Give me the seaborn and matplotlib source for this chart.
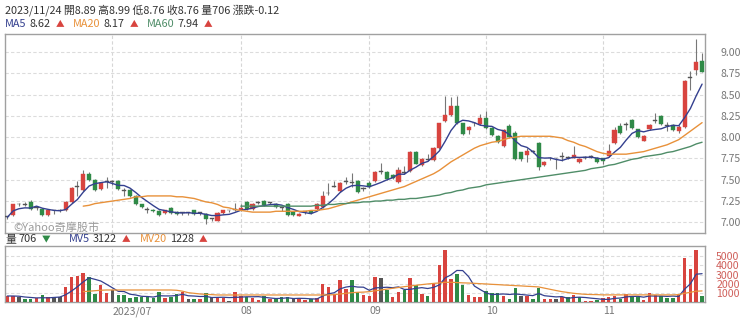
import matplotlib
matplotlib.use("Agg")
import matplotlib.pyplot as plt
import numpy as np
import pandas as pd
import seaborn as sns

# daily candles, 2023/06 - 2023/11/24 (index = trading day)
OPEN = [7.06, 7.09, 7.21, 7.20, 7.24, 7.17, 7.16, 7.09, 7.14, 7.14,
        7.14, 7.24, 7.42, 7.38, 7.57, 7.50, 7.39, 7.47, 7.47, 7.48,
        7.37, 7.38, 7.31, 7.21, 7.15, 7.15, 7.13, 7.11, 7.17, 7.12,
        7.11, 7.11, 7.14, 7.11, 7.10, 7.04, 7.02, 7.11, 7.14, 7.15,
        7.14, 7.24, 7.16, 7.23, 7.25, 7.23, 7.22, 7.17, 7.22, 7.12,
        7.08, 7.12, 7.13, 7.16, 7.18, 7.34, 7.42, 7.37, 7.47, 7.46,
        7.49, 7.39, 7.46, 7.48, 7.59, 7.59, 7.56, 7.47, 7.58, 7.60,
        7.83, 7.67, 7.73, 7.73, 7.87, 8.19, 8.26, 8.36, 8.16, 8.08,
        8.16, 8.15, 8.22, 8.11, 8.01, 7.89, 8.13, 8.05, 7.82, 7.79,
        7.83, 7.93, 7.67, 7.75, 7.75, 7.77, 7.76, 7.76, 7.71, 7.76,
        7.77, 7.76, 7.75, 7.78, 7.93, 8.13, 8.14, 8.20, 8.09, 7.96,
        8.09, 8.19, 8.25, 8.13, 8.14, 8.07, 8.12, 8.69, 8.79, 8.89]
HIGH = [7.08, 7.22, 7.23, 7.24, 7.26, 7.19, 7.17, 7.15, 7.15, 7.16,
        7.25, 7.41, 7.48, 7.62, 7.59, 7.51, 7.47, 7.53, 7.50, 7.50,
        7.40, 7.39, 7.32, 7.22, 7.18, 7.16, 7.14, 7.15, 7.18, 7.13,
        7.12, 7.12, 7.15, 7.12, 7.11, 7.05, 7.12, 7.15, 7.15, 7.23,
        7.22, 7.25, 7.23, 7.25, 7.26, 7.24, 7.23, 7.18, 7.23, 7.13,
        7.11, 7.13, 7.14, 7.23, 7.37, 7.46, 7.49, 7.47, 7.53, 7.58,
        7.50, 7.41, 7.48, 7.60, 7.70, 7.60, 7.57, 7.65, 7.66, 7.84,
        7.84, 7.75, 7.80, 7.88, 8.17, 8.48, 8.47, 8.48, 8.17, 8.13,
        8.18, 8.27, 8.31, 8.12, 8.02, 8.10, 8.15, 8.07, 7.83, 7.87,
        7.85, 7.94, 7.72, 7.77, 7.76, 7.82, 7.78, 7.90, 7.75, 7.78,
        7.79, 7.77, 7.76, 7.92, 8.12, 8.16, 8.18, 8.21, 8.10, 8.02,
        8.15, 8.28, 8.26, 8.18, 8.15, 8.14, 8.67, 8.77, 9.15, 8.99]
LOW = [7.04, 7.08, 7.19, 7.19, 7.15, 7.15, 7.08, 7.08, 7.10, 7.12,
       7.13, 7.23, 7.31, 7.37, 7.49, 7.37, 7.38, 7.40, 7.44, 7.38,
       7.31, 7.30, 7.20, 7.17, 7.11, 7.12, 7.08, 7.10, 7.10, 7.09,
       7.09, 7.09, 7.09, 7.09, 6.98, 7.01, 7.01, 7.10, 7.12, 7.13,
       7.13, 7.15, 7.15, 7.21, 7.19, 7.21, 7.17, 7.13, 7.08, 7.08,
       7.07, 7.10, 7.10, 7.15, 7.17, 7.32, 7.41, 7.36, 7.45, 7.42,
       7.35, 7.37, 7.40, 7.47, 7.57, 7.50, 7.51, 7.46, 7.57, 7.59,
       7.68, 7.66, 7.72, 7.72, 7.86, 8.18, 8.25, 8.15, 8.03, 8.04,
       8.13, 8.14, 8.10, 8.01, 7.93, 7.88, 7.99, 7.73, 7.72, 7.71,
       7.81, 7.62, 7.66, 7.73, 7.63, 7.72, 7.74, 7.75, 7.70, 7.74,
       7.75, 7.70, 7.69, 7.77, 7.92, 8.04, 8.08, 8.10, 7.99, 7.95,
       8.08, 8.16, 8.14, 8.07, 8.07, 8.05, 8.11, 8.55, 8.73, 8.76]
CLOSE = [7.06, 7.21, 7.21, 7.20, 7.16, 7.17, 7.09, 7.14, 7.14, 7.14,
         7.24, 7.40, 7.42, 7.57, 7.50, 7.38, 7.46, 7.47, 7.47, 7.39,
         7.37, 7.31, 7.21, 7.18, 7.15, 7.13, 7.09, 7.14, 7.11, 7.10,
         7.11, 7.11, 7.10, 7.11, 7.04, 7.04, 7.11, 7.14, 7.14, 7.15,
         7.17, 7.16, 7.22, 7.23, 7.20, 7.23, 7.18, 7.17, 7.09, 7.09,
         7.10, 7.12, 7.11, 7.22, 7.31, 7.34, 7.42, 7.46, 7.47, 7.46,
         7.36, 7.39, 7.41, 7.59, 7.59, 7.51, 7.52, 7.62, 7.58, 7.83,
         7.69, 7.74, 7.73, 7.87, 8.16, 8.26, 8.37, 8.16, 8.04, 8.12,
         8.16, 8.22, 8.11, 8.02, 7.94, 8.08, 8.00, 7.74, 7.74, 7.84,
         7.83, 7.65, 7.71, 7.75, 7.75, 7.77, 7.76, 7.79, 7.74, 7.76,
         7.77, 7.71, 7.72, 7.84, 8.08, 8.05, 8.14, 8.11, 8.00, 8.01,
         8.14, 8.19, 8.15, 8.13, 8.08, 8.12, 8.66, 8.69, 8.88, 8.76]
VOLUME = [680, 680, 610, 320, 320, 430, 790, 540, 540, 540,
          1690, 2770, 2840, 3200, 2700, 900, 1870, 1040, 1330, 790,
          790, 430, 610, 610, 680, 500, 1150, 500, 610, 900,
          1150, 360, 360, 360, 970, 540, 430, 430, 180, 1080,
          680, 610, 430, 250, 720, 320, 320, 540, 540, 320,
          430, 250, 320, 430, 1940, 1620, 860, 2410, 1400, 2410,
          1150, 790, 720, 2700, 2590, 1330, 540, 1150, 1330, 2660,
          1870, 900, 680, 1940, 4030, 5650, 2520, 3060, 1870, 790,
          540, 610, 1260, 970, 970, 680, 360, 1510, 680, 680,
          360, 1510, 320, 360, 360, 540, 540, 790, 540, 180,
          180, 250, 430, 540, 720, 360, 860, 680, 610, 250,
          1040, 790, 680, 430, 430, 800, 4750, 3600, 5600, 706]

# longer averages as drawn on the chart (first drawn day given by *_START)
MA20_START = 13
MA20 = [7.19, 7.20, 7.22, 7.23, 7.24, 7.25, 7.26, 7.27, 7.28, 7.30,
        7.30, 7.31, 7.31, 7.31, 7.31, 7.31, 7.30, 7.30, 7.29, 7.28,
        7.26, 7.24, 7.23, 7.21, 7.18, 7.17, 7.15, 7.14, 7.13, 7.12,
        7.12, 7.12, 7.12, 7.13, 7.13, 7.13, 7.13, 7.13, 7.13, 7.14,
        7.14, 7.15, 7.16, 7.18, 7.20, 7.22, 7.24, 7.26, 7.28, 7.30,
        7.32, 7.34, 7.36, 7.38, 7.40, 7.42, 7.45, 7.48, 7.51, 7.54,
        7.57, 7.61, 7.66, 7.71, 7.75, 7.79, 7.83, 7.87, 7.90, 7.92,
        7.94, 7.95, 7.97, 7.99, 8.00, 8.01, 8.01, 8.01, 8.01, 8.01,
        8.01, 8.00, 7.99, 7.96, 7.94, 7.91, 7.89, 7.86, 7.83, 7.81,
        7.80, 7.80, 7.80, 7.80, 7.81, 7.82, 7.83, 7.85, 7.87, 7.89,
        7.91, 7.94, 7.97, 8.02, 8.07, 8.12, 8.17]
MA60_START = 40
MA60 = [7.19, 7.19, 7.19, 7.19, 7.19, 7.19, 7.19, 7.19, 7.19, 7.19,
        7.19, 7.19, 7.19, 7.20, 7.20, 7.21, 7.21, 7.22, 7.22, 7.23,
        7.23, 7.24, 7.24, 7.25, 7.25, 7.26, 7.26, 7.27, 7.27, 7.28,
        7.28, 7.29, 7.30, 7.31, 7.32, 7.34, 7.35, 7.37, 7.38, 7.40,
        7.41, 7.42, 7.44, 7.45, 7.46, 7.47, 7.48, 7.49, 7.50, 7.51,
        7.52, 7.53, 7.54, 7.55, 7.56, 7.57, 7.58, 7.59, 7.60, 7.61,
        7.63, 7.64, 7.65, 7.67, 7.68, 7.70, 7.72, 7.74, 7.75, 7.77,
        7.78, 7.79, 7.80, 7.82, 7.83, 7.85, 7.87, 7.89, 7.92, 7.94]
MV20_START = 13
MV20 = [1150, 1200, 1250, 1300, 1330, 1330, 1330, 1330, 1330, 1330,
        1330, 1330, 1330, 1330, 1330, 1330, 1300, 1200, 1040, 970,
        900, 860, 830, 790, 790, 790, 790, 790, 790, 790,
        790, 790, 790, 790, 790, 790, 790, 790, 790, 790,
        790, 790, 790, 830, 900, 970, 1040, 1080, 1100, 1150,
        1240, 1330, 1420, 1510, 1600, 1690, 1760, 1840, 1910, 1980,
        2040, 2090, 2160, 2160, 2130, 2100, 2080, 2050, 2010, 1980,
        1940, 1910, 1870, 1840, 1800, 1770, 1730, 1700, 1660, 1530,
        1400, 1270, 1150, 1060, 970, 910, 860, 840, 830, 800,
        800, 800, 800, 800, 800, 800, 800, 800, 800, 800,
        800, 800, 830, 970, 1080, 1200, 1228]

MONTH_POS = [18, 40, 62, 82, 102]
MONTH_LABELS = ["2023/07", "08", "09", "10", "11"]
PRICE_TICKS = [7.00, 7.25, 7.50, 7.75, 8.00, 8.25, 8.50, 8.75, 9.00]
VOL_TICKS = [1000, 2000, 3000, 4000, 5000]

RED = "#d8443f"
GREEN = "#2f8a47"
GRAY = "#555555"
C_MA5 = "#34408f"
C_MA20 = "#e8913a"
C_MA60 = "#4f8d68"
TXT = "#333333"

W, H = 740, 322

sns.set_theme(style="white")
plt.rcParams["font.family"] = ["Noto Sans CJK TC", "DejaVu Sans"]

df = pd.DataFrame({"open": OPEN, "high": HIGH, "low": LOW, "close": CLOSE, "volume": VOLUME})
df["x"] = np.arange(len(df))
df["ma5"] = df["close"].rolling(5, min_periods=1).mean()
df["mv5"] = df["volume"].rolling(5, min_periods=1).mean()
prev = df["close"].shift(1)

fig = plt.figure(figsize=(W / 100, H / 100), dpi=100)
fig.patch.set_facecolor("white")
ax = fig.add_axes([5 / W, 1 - 233 / H, 700 / W, 199 / H])
axv = fig.add_axes([5 / W, 1 - 302.3 / H, 700 / W, 56.3 / H])

# candles
up = df["close"] > df["open"]
dn = df["close"] < df["open"]
ccol = np.where(up, RED, np.where(dn, GREEN, GRAY))
ax.vlines(df["x"], df["low"], df["high"], colors="#777777", lw=0.8, zorder=2)
body = np.maximum((df["close"] - df["open"]).abs(), 0.01)
ax.bar(df["x"], body, bottom=np.minimum(df["open"], df["close"]), width=0.7,
       color=ccol, edgecolor=ccol, lw=0.3, zorder=3)

sns.lineplot(x=df["x"], y=df["ma5"], ax=ax, color=C_MA5, lw=1.0, zorder=4)
sns.lineplot(x=np.arange(MA20_START, MA20_START + len(MA20)), y=MA20, ax=ax, color=C_MA20, lw=1.0, zorder=4)
sns.lineplot(x=np.arange(MA60_START, MA60_START + len(MA60)), y=MA60, ax=ax, color=C_MA60, lw=1.0, zorder=4)

# volume
vcol = np.where(df["close"] > prev, RED, np.where(df["close"] < prev, GREEN, GRAY))
vcol[0] = RED
axv.bar(df["x"], df["volume"], width=0.6, color=vcol, lw=0, zorder=3)
sns.lineplot(x=df["x"], y=df["mv5"], ax=axv, color=C_MA5, lw=0.9, zorder=4)
sns.lineplot(x=np.arange(MV20_START, MV20_START + len(MV20)), y=MV20, ax=axv, color=C_MA20, lw=0.9, zorder=4)

for a in (ax, axv):
    a.set_xlim(-0.4, 119.5)
    a.set_xlabel("")
    a.set_ylabel("")
    a.yaxis.tick_right()
    a.tick_params(axis="both", length=0, labelsize=7.6, colors="#777777")
    for s in a.spines.values():
        s.set_color("#a0a0a0")
        s.set_linewidth(1.0)
    a.set_axisbelow(True)
    for m in MONTH_POS:
        a.axvline(m, color="#d6d6d6", lw=0.8, ls=(0, (3, 2)), zorder=1)

ax.set_ylim(6.875, 9.21)
ax.set_yticks(PRICE_TICKS)
ax.set_yticklabels([f"{v:.2f}" for v in PRICE_TICKS])
ax.tick_params(axis="y", pad=11)
ax.set_xticks([])
for v in PRICE_TICKS:
    ax.axhline(v, color="#dcdcdc", lw=0.8, ls=(0, (3, 2)), zorder=1)

axv.set_ylim(0, 6080)
axv.set_yticks(VOL_TICKS)
axv.set_yticklabels([str(v) for v in VOL_TICKS])
axv.tick_params(axis="y", pad=8, labelcolor="#cf5f5a")
for v in VOL_TICKS:
    axv.axhline(v, color="#dcdcdc", lw=0.8, ls=(0, (3, 2)), zorder=1)
axv.set_xticks(MONTH_POS)
axv.set_xticklabels(MONTH_LABELS, ha="left")
axv.tick_params(axis="x", pad=3)

ax.text(8 / 700, 0.0, "©Yahoo奇摩股市", transform=ax.transAxes, fontsize=8,
        color="#9a9a9a", va="bottom", ha="left")

renderer = fig.canvas.get_renderer()


def draw_pieces(x0, y, pieces, size=7.8):
    x = x0
    for text, color, gap in pieces:
        fs = size - 1.6 if text in ("▲", "▼") else size
        t = fig.text(x / W, 1 - y / H, text, color=color, fontsize=fs, va="center", ha="left")
        x += t.get_window_extent(renderer).width + gap


draw_pieces(5, 10, [("2023/11/24 開8.89 高8.99 低8.76 收8.76 量706 漲跌-0.12", TXT, 0)])
draw_pieces(5, 24, [("MA5", C_MA5, 3), ("8.62", TXT, 5), ("▲", RED, 9),
                    ("MA20", C_MA20, 3), ("8.17", TXT, 5), ("▲", RED, 9),
                    ("MA60", C_MA60, 3), ("7.94", TXT, 5), ("▲", RED, 0)])
draw_pieces(5, 239, [("量", TXT, 3), ("706", TXT, 5), ("▼", GREEN, 18),
                     ("MV5", C_MA5, 3), ("3122", TXT, 5), ("▲", RED, 9),
                     ("MV20", C_MA20, 3), ("1228", TXT, 5), ("▲", RED, 0)])

fig.savefig("out.png", dpi=100, facecolor="white")
